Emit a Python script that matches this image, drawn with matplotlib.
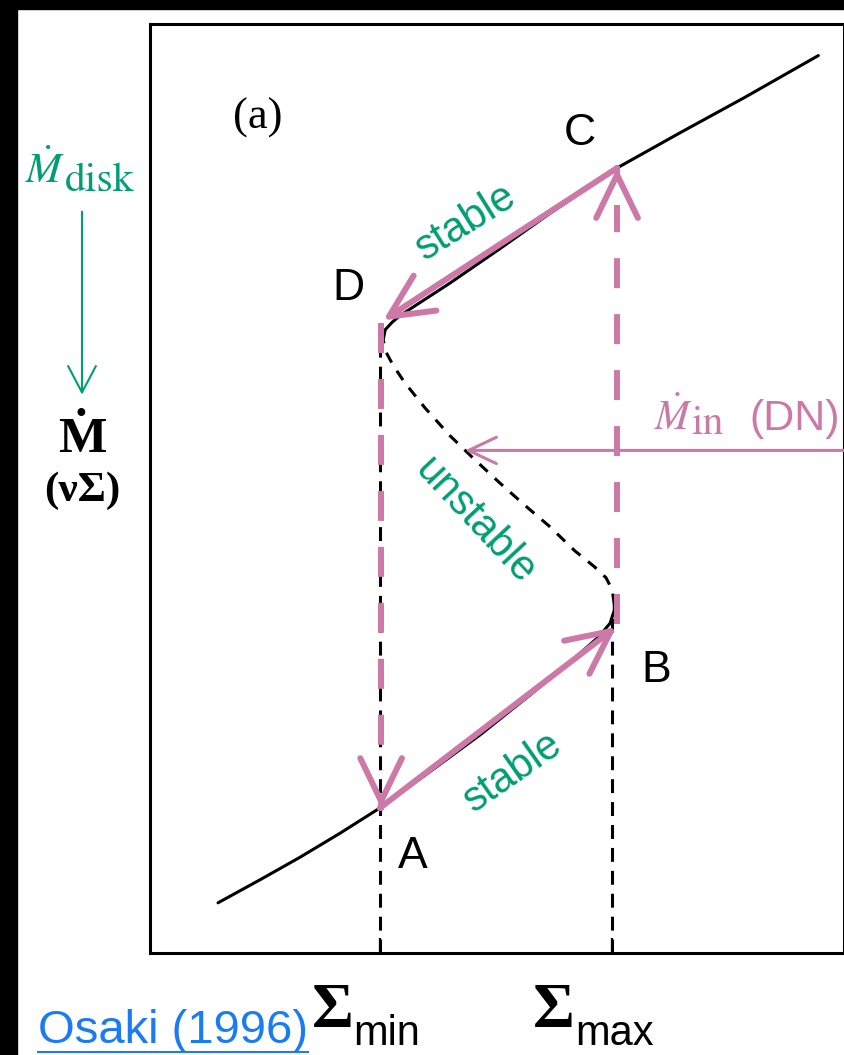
import matplotlib
matplotlib.use("Agg")
import matplotlib.pyplot as plt
from matplotlib.patches import Rectangle
from matplotlib.lines import Line2D

plt.rcParams['lines.scale_dashes'] = False
plt.rcParams['mathtext.fontset'] = 'stix'
plt.rcParams['font.family'] = ['Liberation Sans', 'DejaVu Sans']

# S-curve of the disk (surface density vs accretion rate), arbitrary units
lower_sigma = [9.8, 15.9, 21.6, 27.4, 33.1, 40.3, 47.6, 54.8, 60.5, 64.6, 66.3, 66.9, 66.9]
lower_mdot = [5.4, 7.9, 10.3, 12.9, 15.6, 19.5, 23.5, 27.8, 31.3, 34.0, 35.5, 36.9, 37.5]

unstable_sigma = [66.9, 66.6, 65.7, 64.0, 61.2, 57.6, 54.0, 50.4, 46.8, 43.2, 39.6, 36.7, 35.0, 34.0, 33.6]
unstable_mdot = [37.5, 39.1, 40.4, 41.6, 43.3, 45.9, 48.2, 50.6, 53.1, 55.7, 58.7, 61.4, 63.3, 64.7, 66.0]

upper_sigma = [33.6, 33.9, 34.9, 36.0, 43.2, 50.4, 57.6, 67.3, 76.4, 85.7, 96.3]
upper_mdot = [66.0, 67.1, 67.9, 68.6, 72.1, 75.8, 79.6, 84.5, 88.3, 92.1, 96.6]

sigma_min, sigma_max = 33.2, 66.6

# limit-cycle points
pt_A = (33.1, 15.6)
pt_B = (67.2, 35.1)
pt_C = (67.3, 84.5)
pt_D = (33.6, 68.1)
jump_down_x = 33.3
mdot_in_level = 54.1

PINK = '#CC79A7'
GREEN = '#009E73'

fig = plt.figure(figsize=(8.45, 10.55), dpi=100)
fig.add_artist(Rectangle((0, 1 - 9 / 1055), 1, 9 / 1055, transform=fig.transFigure, color='black'))
fig.add_artist(Rectangle((0, 0), 17 / 845, 1, transform=fig.transFigure, color='black'))

ax = fig.add_axes([150 / 845, 102 / 1055, 694 / 845, 929 / 1055])
ax.set_xlim(0, 100)
ax.set_ylim(0, 100)
for sp in ax.spines.values():
    sp.set_linewidth(2.2)
ax.set_yticks([])
ax.set_xticks([sigma_min, sigma_max])
ax.set_xticklabels([])
ax.tick_params(axis='x', direction='in', length=11, width=1.6)

# black S-curve
ax.plot(lower_sigma, lower_mdot, color='black', lw=2.2, solid_capstyle='round')
ax.plot(upper_sigma, upper_mdot, color='black', lw=2.2, solid_capstyle='round')
ax.plot(unstable_sigma, unstable_mdot, color='black', lw=2.2, dashes=(8, 7))
ax.plot([sigma_min, sigma_min], [0, unstable_mdot[-1]], color='black', lw=2.2, dashes=(10, 6.5))
ax.plot([sigma_max, sigma_max], [0, lower_mdot[-2]], color='black', lw=2.2, dashes=(10, 6.5))

# limit cycle in pink
head = dict(arrowstyle='->,head_length=31,head_width=15', mutation_scale=1,
            color=PINK, lw=4.3, shrinkA=0, shrinkB=0, capstyle='round', joinstyle='round')
ax.annotate('', xy=pt_D, xytext=pt_C, arrowprops=head)
ax.annotate('', xy=pt_B, xytext=pt_A, arrowprops=head)

ax.plot([pt_C[0], pt_C[0]], [pt_B[1] + 0.3, pt_C[1] - 4.0], color=PINK, lw=4.3, dashes=(21.6, 18.7))
ax.annotate('', xy=pt_C, xytext=(pt_C[0], pt_C[1] - 0.05), arrowprops=head)
ax.plot([jump_down_x, jump_down_x], [pt_D[1] - 0.3, pt_A[1] + 4.0], color=PINK, lw=4.3, dashes=(21.6, 18.7))
ax.annotate('', xy=(jump_down_x, pt_A[1]), xytext=(jump_down_x, pt_A[1] + 0.05), arrowprops=head)

# mass transfer rate from the secondary
ax.annotate('', xy=(45.4, mdot_in_level), xytext=(100, mdot_in_level), annotation_clip=False,
            arrowprops=dict(arrowstyle='->,head_length=20,head_width=9.5', mutation_scale=1,
                            color=PINK, lw=2.2, shrinkA=0, shrinkB=0))
t_in = ax.text(72.6, 56.3, r'$\dot{M}$', fontsize=30, color=PINK, va='baseline')
ax.annotate('in', xy=(1, 0), xycoords=t_in, xytext=(-1, -3), textcoords='offset points',
            family='STIXGeneral', fontsize=30, color=PINK, va='bottom')
ax.text(99.4, 56.3, '(DN)', fontsize=31, color=PINK, ha='right', va='baseline')

# point labels
ax.text(61.96, 86.98, 'C', fontsize=32, ha='center', va='baseline')
ax.text(28.53, 70.29, 'D', fontsize=32, ha='center', va='baseline')
ax.text(37.82, 9.15, 'A', fontsize=32, ha='center', va='baseline')
ax.text(72.91, 29.17, 'B', fontsize=32, ha='center', va='baseline')
ax.text(15.56, 89.88, '(a)', fontsize=32, family='Liberation Serif', ha='center', va='center')

ax.text(45.5, 78.6, 'stable', fontsize=30, color=GREEN, rotation=32,
        ha='center', va='center', rotation_mode='anchor')
ax.text(52.3, 19.5, 'stable', fontsize=30, color=GREEN, rotation=35,
        ha='center', va='center', rotation_mode='anchor')
ax.text(46.8, 46.5, 'unstable', fontsize=30, color=GREEN, rotation=-47,
        ha='center', va='center', rotation_mode='anchor')

# y-axis label and disk accretion rate arrow
t_disk = ax.text(-18.0, 82.9, r'$\dot{M}$', fontsize=31, color=GREEN, va='baseline', clip_on=False)
ax.annotate('disk', xy=(1, 0), xycoords=t_disk, xytext=(0, -6), textcoords='offset points',
            family='STIXGeneral', fontsize=30, color=GREEN, va='bottom')
ax.annotate('', xy=(-9.8, 60.1), xytext=(-9.8, 79.8), annotation_clip=False,
            arrowprops=dict(arrowstyle='->,head_length=19,head_width=10', mutation_scale=1,
                            color=GREEN, lw=1.5, shrinkA=0, shrinkB=0))
ax.text(-9.8, 55.2, '\u1E40', fontsize=37, family=['Liberation Serif', 'DejaVu Serif'],
        weight='bold', ha='center', va='center', clip_on=False)
ax.text(-9.8, 49.8, '(\u03bd\u03a3)', fontsize=31, family=['Liberation Serif', 'DejaVu Serif'],
        weight='bold', ha='center', va='center', clip_on=False)

# x-axis labels
for x0, sub in [(23.3, 'min'), (55.2, 'max')]:
    ts = ax.text(x0, -8.0, '\u03a3', fontsize=46, family='Liberation Serif', weight='bold',
                 va='baseline', clip_on=False)
    ax.annotate(sub, xy=(1, 0), xycoords=ts, xytext=(0, -9), textcoords='offset points',
                family='Liberation Sans', fontsize=30, va='bottom')

osaki = ax.text(-16.1, -9.7, 'Osaki (1996)', fontsize=34, color='#1a7cf2', va='baseline', clip_on=False)

fig.canvas.draw()
bb = osaki.get_window_extent().transformed(fig.transFigure.inverted())
fig.add_artist(Line2D([bb.x0, bb.x1], [3 / 1055, 3 / 1055], transform=fig.transFigure,
                      color='#1a7cf2', lw=1.5))

fig.savefig('out.png', dpi=100)
